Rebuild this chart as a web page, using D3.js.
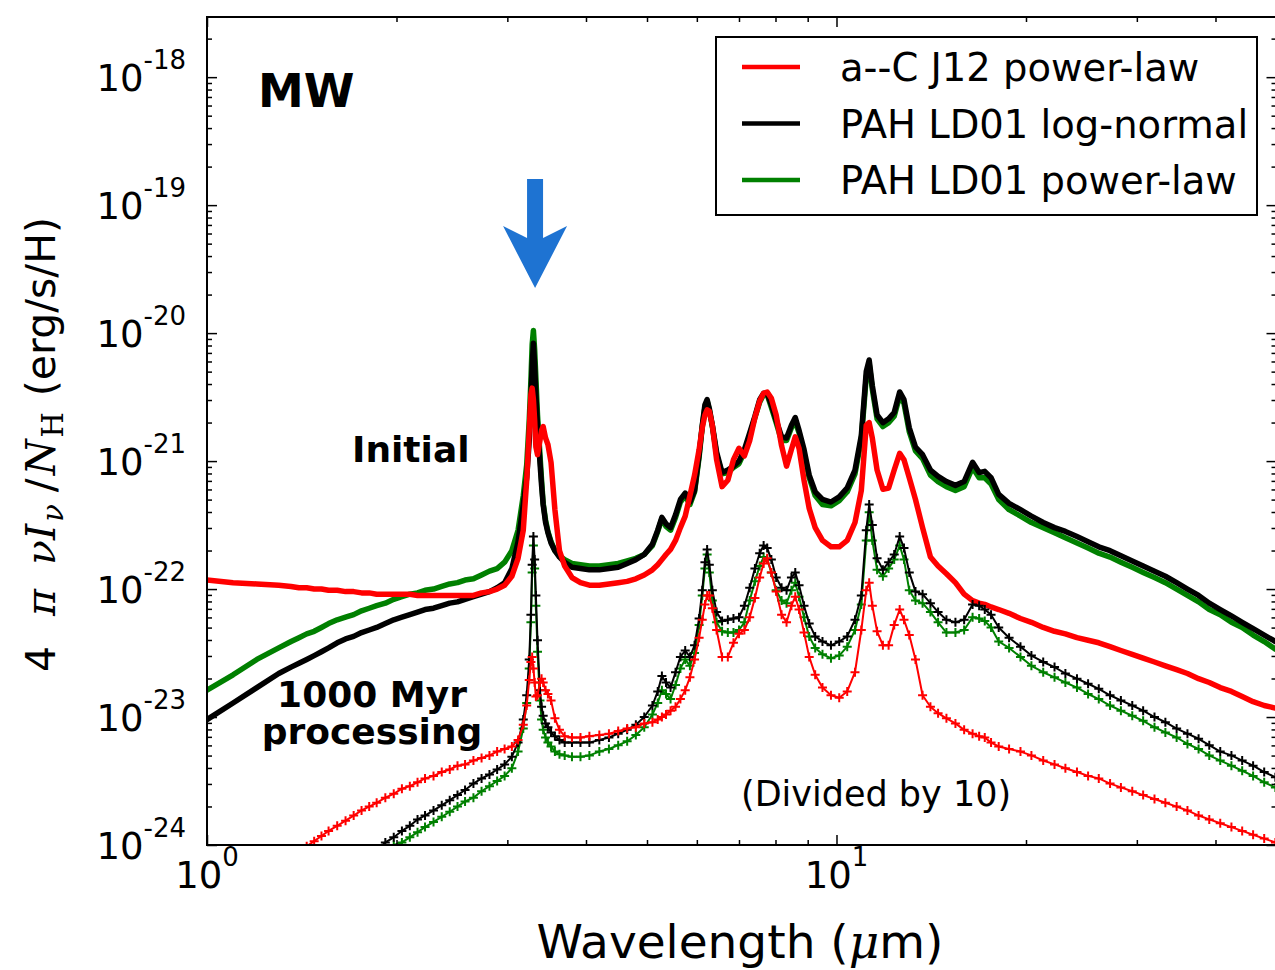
<!DOCTYPE html>
<meta charset="utf-8">
<style>
body { margin: 0; background: #fff; }
svg { display: block; font-family: "DejaVu Sans", sans-serif; }
.frame { fill: none; stroke: #000; stroke-width: 2px; }
.tick line { stroke: #000; stroke-width: 1.5px; }
.thick { fill: none; stroke-width: 5.5px; stroke-linejoin: round; stroke-linecap: round; }
.thin { fill: none; stroke-width: 2px; stroke-linejoin: round; }
.mark { fill: none; stroke-width: 2px; }
.math { font-family: "DejaVu Serif", serif; font-style: italic; }
text { white-space: pre; }
</style>
<svg width="1275" height="970"></svg>
<script src="https://d3js.org/d3.v7.min.js"></script>
<script>

// wavelength grid (micron)
var wave = [1.00,1.10,1.20,1.30,1.36,1.40,1.44,1.48,1.52,1.56,
  1.61,1.66,1.71,1.76,1.81,1.86,1.92,1.98,2.04,2.10,
  2.16,2.22,2.29,2.36,2.43,2.50,2.57,2.65,2.73,2.81,
  2.89,2.97,3.05,3.12,3.18,3.22,3.25,3.27,3.285,3.30,
  3.315,3.33,3.35,3.38,3.40,3.42,3.45,3.48,3.52,3.57,
  3.63,3.70,3.80,3.92,4.05,4.20,4.35,4.50,4.65,4.80,
  4.95,5.10,5.20,5.28,5.36,5.45,5.55,5.65,5.75,5.85,
  5.95,6.05,6.12,6.18,6.23,6.28,6.35,6.45,6.58,6.72,
  6.86,7.00,7.14,7.28,7.42,7.55,7.66,7.76,7.88,8.02,
  8.18,8.33,8.48,8.60,8.72,8.88,9.05,9.25,9.50,9.80,
  10.1,10.4,10.7,10.95,11.15,11.27,11.40,11.60,11.85,12.10,
  12.35,12.60,12.80,13.05,13.35,13.70,14.10,14.50,14.95,15.45,
  15.95,16.45,16.85,17.20,17.60,18.10,18.80,19.60,20.40,21.30,
  22.20,23.10,24.10,25.10,26.10,27.20,28.30,29.50,30.70,32.00,
  33.30,34.70,36.10,37.60,39.10,40.70,42.40,44.10,45.90,47.80,
  49.80];

// log10 of 4 pi nu I_nu / N_H (erg/s/H), initial spectra
var lgRedInit = [-21.93,-21.95,-21.96,-21.97,-21.98,-21.99,-21.99,-22.00,-22.00,-22.01,
  -22.01,-22.02,-22.02,-22.03,-22.03,-22.04,-22.04,-22.04,-22.04,-22.04,
  -22.05,-22.05,-22.05,-22.05,-22.05,-22.05,-22.05,-22.05,-22.03,-22.02,
  -22.00,-21.97,-21.90,-21.76,-21.54,-21.15,-20.76,-20.48,-20.43,-20.52,
  -20.68,-20.89,-20.95,-20.84,-20.76,-20.73,-20.82,-20.87,-21.01,-21.38,
  -21.70,-21.82,-21.91,-21.95,-21.97,-21.97,-21.96,-21.95,-21.94,-21.92,
  -21.89,-21.85,-21.81,-21.77,-21.73,-21.69,-21.62,-21.52,-21.43,-21.27,
  -21.11,-20.91,-20.74,-20.64,-20.60,-20.61,-20.72,-20.99,-21.20,-21.15,
  -20.99,-20.90,-20.96,-20.84,-20.66,-20.53,-20.47,-20.46,-20.51,-20.64,
  -20.88,-21.04,-20.91,-20.81,-20.90,-21.15,-21.37,-21.52,-21.62,-21.67,
  -21.67,-21.62,-21.48,-21.23,-20.72,-20.70,-20.82,-21.07,-21.22,-21.21,
  -21.07,-20.94,-20.99,-21.13,-21.30,-21.52,-21.75,-21.82,-21.88,-21.95,
  -22.04,-22.09,-22.11,-22.12,-22.14,-22.16,-22.19,-22.23,-22.26,-22.30,
  -22.33,-22.35,-22.38,-22.40,-22.42,-22.45,-22.48,-22.51,-22.54,-22.57,
  -22.60,-22.63,-22.66,-22.70,-22.73,-22.77,-22.80,-22.84,-22.88,-22.91,
  -22.93];

var lgBlackInit = [-23.02,-22.89,-22.77,-22.66,-22.61,-22.58,-22.55,-22.52,-22.49,-22.46,
  -22.42,-22.39,-22.37,-22.34,-22.32,-22.30,-22.27,-22.24,-22.22,-22.20,
  -22.18,-22.16,-22.15,-22.13,-22.11,-22.10,-22.08,-22.06,-22.04,-22.02,
  -21.99,-21.95,-21.84,-21.63,-21.34,-21.13,-20.84,-20.52,-20.25,-20.08,
  -20.25,-20.48,-20.72,-21.01,-21.19,-21.34,-21.48,-21.56,-21.64,-21.70,
  -21.75,-21.79,-21.83,-21.84,-21.85,-21.85,-21.84,-21.83,-21.80,-21.77,
  -21.73,-21.65,-21.54,-21.44,-21.49,-21.52,-21.42,-21.30,-21.25,-21.32,
  -21.23,-20.95,-20.72,-20.56,-20.52,-20.59,-20.72,-20.93,-21.09,-21.07,
  -21.04,-21.00,-20.91,-20.78,-20.65,-20.52,-20.47,-20.47,-20.56,-20.68,
  -20.81,-20.82,-20.72,-20.66,-20.76,-20.91,-21.11,-21.24,-21.30,-21.32,
  -21.28,-21.21,-21.07,-20.80,-20.30,-20.21,-20.41,-20.64,-20.70,-20.67,
  -20.62,-20.46,-20.52,-20.74,-20.89,-20.95,-21.07,-21.12,-21.16,-21.19,
  -21.16,-21.01,-21.09,-21.08,-21.13,-21.26,-21.33,-21.38,-21.43,-21.48,
  -21.52,-21.55,-21.59,-21.63,-21.67,-21.70,-21.74,-21.78,-21.82,-21.86,
  -21.90,-21.95,-22.00,-22.05,-22.11,-22.16,-22.21,-22.26,-22.31,-22.36,
  -22.41];

var lgGreenInit = [-22.79,-22.67,-22.55,-22.46,-22.41,-22.38,-22.35,-22.33,-22.30,-22.27,
  -22.24,-22.22,-22.20,-22.17,-22.15,-22.13,-22.11,-22.08,-22.06,-22.04,
  -22.03,-22.01,-22.00,-21.98,-21.96,-21.95,-21.93,-21.92,-21.89,-21.86,
  -21.84,-21.79,-21.70,-21.54,-21.27,-21.03,-20.68,-20.37,-20.09,-19.98,
  -20.13,-20.35,-20.64,-20.95,-21.15,-21.33,-21.46,-21.55,-21.63,-21.70,
  -21.74,-21.77,-21.80,-21.81,-21.82,-21.82,-21.81,-21.80,-21.78,-21.76,
  -21.73,-21.66,-21.55,-21.45,-21.51,-21.54,-21.44,-21.32,-21.27,-21.34,
  -21.24,-20.97,-20.73,-20.58,-20.53,-20.60,-20.73,-20.95,-21.10,-21.09,
  -21.05,-21.02,-20.93,-20.80,-20.66,-20.54,-20.48,-20.48,-20.58,-20.70,
  -20.84,-20.84,-20.74,-20.69,-20.78,-20.94,-21.13,-21.27,-21.34,-21.35,
  -21.31,-21.24,-21.10,-20.83,-20.34,-20.24,-20.44,-20.67,-20.73,-20.70,
  -20.65,-20.49,-20.55,-20.77,-20.92,-20.98,-21.11,-21.16,-21.20,-21.23,
  -21.20,-21.05,-21.13,-21.13,-21.18,-21.30,-21.38,-21.43,-21.48,-21.52,
  -21.56,-21.60,-21.64,-21.68,-21.72,-21.75,-21.79,-21.83,-21.87,-21.91,
  -21.95,-22.00,-22.05,-22.10,-22.16,-22.20,-22.26,-22.30,-22.36,-22.41,
  -22.47];

// log10 after 1000 Myr processing, already divided by 10 (null = below plot)
var lgRedProc = [null,null,null,null,null,-24.05,-24.01,-23.97,-23.93,-23.89,
  -23.85,-23.81,-23.77,-23.73,-23.70,-23.67,-23.63,-23.60,-23.56,-23.54,
  -23.51,-23.48,-23.46,-23.43,-23.41,-23.38,-23.37,-23.34,-23.32,-23.30,
  -23.27,-23.25,-23.23,-23.18,-23.06,-22.91,-22.71,-22.57,-22.53,-22.62,
  -22.73,-22.84,-22.83,-22.73,-22.70,-22.73,-22.79,-22.82,-22.87,-23.01,
  -23.10,-23.15,-23.16,-23.16,-23.15,-23.14,-23.13,-23.11,-23.09,-23.08,
  -23.05,-23.04,-23.02,-23.00,-22.98,-22.95,-22.92,-22.86,-22.79,-22.69,
  -22.55,-22.38,-22.24,-22.12,-22.05,-22.05,-22.15,-22.32,-22.53,-22.53,
  -22.42,-22.35,-22.32,-22.22,-22.07,-21.91,-21.80,-21.76,-21.87,-22.02,
  -22.20,-22.26,-22.13,-22.06,-22.16,-22.34,-22.53,-22.67,-22.77,-22.83,
  -22.85,-22.80,-22.65,-22.32,-22.01,-21.95,-22.13,-22.33,-22.44,-22.44,
  -22.28,-22.16,-22.24,-22.36,-22.55,-22.83,-22.92,-22.97,-23.01,-23.05,
  -23.10,-23.13,-23.15,-23.16,-23.20,-23.23,-23.25,-23.27,-23.30,-23.34,
  -23.37,-23.40,-23.43,-23.46,-23.48,-23.52,-23.55,-23.58,-23.61,-23.64,
  -23.67,-23.70,-23.73,-23.77,-23.80,-23.83,-23.86,-23.89,-23.92,-23.95,
  -23.98];

var lgBlackProc = [null,null,null,null,null,null,null,null,null,null,
  null,null,null,null,null,-24.04,-23.98,-23.94,-23.89,-23.85,
  -23.80,-23.77,-23.73,-23.69,-23.65,-23.61,-23.57,-23.52,-23.48,-23.45,
  -23.41,-23.37,-23.31,-23.20,-23.02,-22.83,-22.55,-22.20,-21.81,-21.59,
  -21.77,-22.05,-22.40,-22.79,-22.92,-22.99,-23.05,-23.08,-23.12,-23.15,
  -23.18,-23.20,-23.20,-23.20,-23.20,-23.18,-23.16,-23.13,-23.10,-23.06,
  -23.00,-22.91,-22.80,-22.68,-22.73,-22.77,-22.65,-22.53,-22.48,-22.53,
  -22.44,-22.23,-22.01,-21.79,-21.69,-21.81,-22.01,-22.18,-22.25,-22.24,
  -22.23,-22.22,-22.13,-21.99,-21.84,-21.72,-21.66,-21.68,-21.77,-21.91,
  -21.99,-22.01,-21.91,-21.87,-21.97,-22.13,-22.27,-22.37,-22.41,-22.44,
  -22.41,-22.37,-22.24,-22.05,-21.54,-21.34,-21.50,-21.76,-21.85,-21.79,
  -21.73,-21.59,-21.68,-21.87,-22.02,-22.04,-22.11,-22.18,-22.24,-22.26,
  -22.24,-22.12,-22.13,-22.16,-22.20,-22.30,-22.38,-22.45,-22.52,-22.57,
  -22.61,-22.66,-22.70,-22.74,-22.78,-22.83,-22.87,-22.91,-22.95,-23.00,
  -23.04,-23.09,-23.13,-23.17,-23.22,-23.27,-23.30,-23.34,-23.38,-23.43,
  -23.47];

var lgGreenProc = [null,null,null,null,null,null,null,null,null,null,
  null,null,null,null,null,null,-24.04,-24.00,-23.98,-23.94,
  -23.90,-23.86,-23.82,-23.78,-23.74,-23.70,-23.66,-23.63,-23.58,-23.54,
  -23.50,-23.46,-23.40,-23.27,-23.09,-22.89,-22.62,-22.26,-21.87,-21.66,
  -21.84,-22.13,-22.49,-22.87,-23.02,-23.10,-23.16,-23.20,-23.23,-23.27,
  -23.29,-23.30,-23.31,-23.31,-23.30,-23.27,-23.25,-23.22,-23.19,-23.14,
  -23.08,-22.98,-22.89,-22.79,-22.82,-22.86,-22.75,-22.62,-22.55,-22.60,
  -22.50,-22.28,-22.05,-21.84,-21.73,-21.87,-22.09,-22.26,-22.33,-22.34,
  -22.34,-22.32,-22.26,-22.09,-21.94,-21.82,-21.75,-21.77,-21.87,-22.01,
  -22.09,-22.11,-22.01,-21.95,-22.06,-22.22,-22.37,-22.46,-22.51,-22.54,
  -22.52,-22.45,-22.32,-22.12,-21.62,-21.40,-21.62,-21.85,-21.90,-21.84,
  -21.77,-21.66,-21.77,-22.01,-22.09,-22.11,-22.18,-22.26,-22.34,-22.34,
  -22.32,-22.22,-22.23,-22.25,-22.30,-22.41,-22.46,-22.53,-22.60,-22.65,
  -22.69,-22.73,-22.77,-22.82,-22.86,-22.91,-22.95,-22.99,-23.03,-23.08,
  -23.12,-23.16,-23.21,-23.25,-23.30,-23.34,-23.38,-23.42,-23.46,-23.51,
  -23.55];

var seriesNames = ["a--C J12 power-law", "PAH LD01 log-normal", "PAH LD01 power-law"];
var seriesColors = ["#ff0000", "#000000", "#008000"];
var xMajor = [1, 10];
var xMinor = [2, 3, 4, 5, 6, 7, 8, 9, 20, 30, 40, 50];
var yExps = [-24, -23, -22, -21, -20, -19, -18];
var arrowWave = 3.32, arrowTip = 2.25e-20, arrowTail = 1.6e-19;

var svg = d3.select("svg");

var x = d3.scaleLog().domain([1, 50]).range([207, 1276.5]);
var y = d3.scaleLog().domain([1e-24, Math.pow(10, -17.53)]).range([845, 17]);

var yMajor = yExps.map(function(e) { return Math.pow(10, e); });
var yMinor = [];
yExps.forEach(function(e) {
  for (var k = 2; k <= 9; k++) {
    var v = k * Math.pow(10, e);
    if (v < y.domain()[1]) yMinor.push(v);
  }
});

svg.append("defs").append("clipPath").attr("id", "plotclip")
  .append("rect").attr("x", 207).attr("y", 17).attr("width", 1069.5).attr("height", 828);

function points(lg) {
  return wave.map(function(w, i) { return lg[i] == null ? null : [w, Math.pow(10, lg[i])]; });
}

var line = d3.line()
  .defined(function(d) { return d != null; })
  .x(function(d) { return x(d[0]); })
  .y(function(d) { return y(d[1]); });

var plot = svg.append("g").attr("clip-path", "url(#plotclip)");

// initial spectra (thick), drawn green, black, red
var initData = [lgRedInit, lgBlackInit, lgGreenInit];
var procData = [lgRedProc, lgBlackProc, lgGreenProc];
[2, 1, 0].forEach(function(i) {
  plot.append("path")
    .attr("class", "thick")
    .attr("stroke", seriesColors[i])
    .attr("d", line(points(initData[i])));
});

// processed spectra / 10 (thin with + markers)
[2, 1, 0].forEach(function(i) {
  var pts = points(procData[i]);
  plot.append("path")
    .attr("class", "thin")
    .attr("stroke", seriesColors[i])
    .attr("d", line(pts));
  plot.append("g").selectAll("path")
    .data(pts.filter(function(d) { return d != null; }))
    .enter().append("path")
      .attr("class", "mark")
      .attr("stroke", seriesColors[i])
      .attr("transform", function(d) { return "translate(" + x(d[0]) + "," + y(d[1]) + ")"; })
      .attr("d", "M-4.5,0H4.5M0,-4.5V4.5");
});

// axes: ticks inward on all four sides
function axisG(axis, tx, ty) {
  var g = svg.append("g").attr("transform", "translate(" + tx + "," + ty + ")").call(axis);
  g.select(".domain").remove();
  return g;
}
axisG(d3.axisBottom(x).tickValues(xMinor).tickSize(-5).tickFormat(""), 0, 845);
axisG(d3.axisBottom(x).tickValues(xMajor).tickSize(-10).tickFormat(""), 0, 845);
axisG(d3.axisTop(x).tickValues(xMinor).tickSize(-5).tickFormat(""), 0, 17);
axisG(d3.axisTop(x).tickValues(xMajor).tickSize(-10).tickFormat(""), 0, 17);
axisG(d3.axisLeft(y).tickValues(yMinor).tickSize(-5).tickFormat(""), 207, 0);
axisG(d3.axisLeft(y).tickValues(yMajor).tickSize(-10).tickFormat(""), 207, 0);
axisG(d3.axisRight(y).tickValues(yMinor).tickSize(-5).tickFormat(""), 1276.5, 0);
axisG(d3.axisRight(y).tickValues(yMajor).tickSize(-10).tickFormat(""), 1276.5, 0);

svg.append("rect").attr("class", "frame")
  .attr("x", 207).attr("y", 17).attr("width", 1069.5).attr("height", 828);

// tick labels 10^n
function powLabel(t, exp) {
  t.append("tspan").attr("font-size", 37).text("10");
  t.append("tspan").attr("font-size", 26).attr("dy", -22).text(exp);
}
xMajor.forEach(function(v) {
  var t = svg.append("text").attr("x", x(v)).attr("y", 888).attr("text-anchor", "middle");
  powLabel(t, String(Math.round(Math.log10(v))));
});
yMajor.forEach(function(v, i) {
  var t = svg.append("text").attr("x", 186).attr("y", y(v) + 14).attr("text-anchor", "end");
  powLabel(t, String(yExps[i]));
});

// axis titles
var xt = svg.append("text").attr("x", 740).attr("y", 958).attr("text-anchor", "middle").attr("font-size", 47);
xt.append("tspan").text("Wavelength (");
xt.append("tspan").attr("class", "math").text("\u03bc");
xt.append("tspan").text("m)");

var yt = svg.append("text").attr("transform", "translate(55,672) rotate(-90)")
  .attr("font-size", 41);
yt.append("tspan").text("4");
yt.append("tspan").attr("class", "math").attr("dx", 30).text("\u03c0");
yt.append("tspan").attr("class", "math").attr("dx", 24).text("\u03bdI");
yt.append("tspan").attr("class", "math").attr("font-size", 29).attr("dy", 8).attr("dx", 2).text("\u03bd");
yt.append("tspan").attr("dy", -8).attr("dx", 12).text("/");
yt.append("tspan").attr("class", "math").attr("dx", 3).text("N");
yt.append("tspan").attr("font-family", "DejaVu Serif").attr("font-size", 29).attr("dy", 8).attr("dx", 2).text("H");
yt.append("tspan").attr("dy", -8).attr("dx", 16).text("(erg/s/H)");

// annotations
svg.append("text").attr("x", 258).attr("y", 107).attr("font-size", 46).attr("font-weight", "bold").text("MW");
svg.append("text").attr("x", 352).attr("y", 462).attr("font-size", 36).attr("font-weight", "bold").text("Initial");
svg.append("text").attr("x", 372).attr("y", 707).attr("font-size", 36).attr("font-weight", "bold")
  .attr("text-anchor", "middle").text("1000 Myr");
svg.append("text").attr("x", 372).attr("y", 744).attr("font-size", 36).attr("font-weight", "bold")
  .attr("text-anchor", "middle").text("processing");
svg.append("text").attr("x", 741).attr("y", 806).attr("font-size", 35).text("(Divided by 10)");

// blue arrow at the 3.3 micron feature
var ax = x(arrowWave), tipY = y(arrowTip), tailY = y(arrowTail);
svg.append("path")
  .attr("fill", "#1e73d2")
  .attr("d", "M" + (ax - 8) + "," + tailY + "L" + (ax + 8) + "," + tailY +
    "L" + (ax + 8) + "," + (tipY - 50) + "L" + (ax + 32) + "," + (tipY - 62) +
    "L" + ax + "," + tipY + "L" + (ax - 32) + "," + (tipY - 62) +
    "L" + (ax - 8) + "," + (tipY - 50) + "Z");

// legend
var leg = svg.append("g").attr("transform", "translate(716,37)");
leg.append("rect").attr("width", 541).attr("height", 178)
  .attr("fill", "#fff").attr("stroke", "#000").attr("stroke-width", 2);
seriesNames.forEach(function(n, i) {
  var ly = 30 + i * 56.5;
  leg.append("line").attr("x1", 26).attr("x2", 84).attr("y1", ly).attr("y2", ly)
    .attr("stroke", seriesColors[i]).attr("stroke-width", 4.5);
  leg.append("text").attr("x", 124).attr("y", ly + 14).attr("font-size", 38.5).text(n);
});

</script>
